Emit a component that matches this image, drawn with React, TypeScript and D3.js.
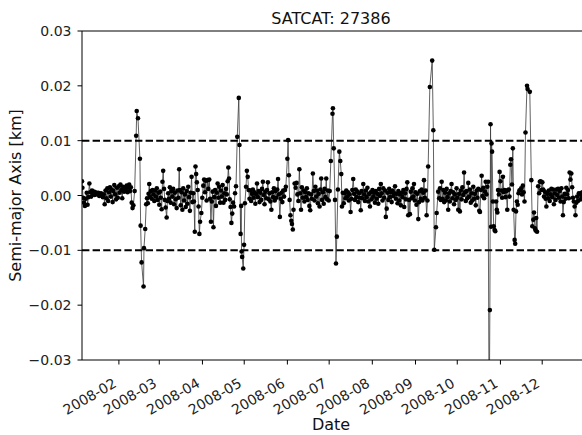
import React from "react";
import * as d3 from "d3";

// Semi-major axis residuals per TLE epoch: [day of year 2008 (0 = Jan 1), residual in metres]
const residualsQ1: [number, number][] = [
  [4.5, 2.6], [4.8, 1.4], [5.3, -0.4], [5.9, -1.3], [6.6, -1.9], [7.2, -0.6], [7.9, 0.5], [8.5, -1.7],
  [9.1, -0.3], [9.8, 2.2], [10.4, 0.6], [11.1, -0.2], [11.7, 0.9], [12.4, 0.3], [13.0, 0.7], [13.6, 0.1],
  [14.3, 0.6], [14.9, 0.4], [15.6, 0.2], [16.2, 0.5], [16.9, -0.1], [17.5, 0.3], [18.2, 0.4], [18.8, 0.1],
  [19.5, -0.3], [20.1, 0.2], [20.8, -1.6], [21.4, 0.9], [22.0, -0.5], [22.7, 1.3], [23.3, -1.0], [23.9, 0.6],
  [24.6, 1.5], [25.2, -0.2], [25.8, 1.1], [26.5, -1.2], [27.1, 0.8], [27.7, 1.9], [28.3, 0.2], [29.0, -0.7],
  [29.6, 1.4], [30.2, -0.4], [30.9, 1.7], [31.5, 0.5], [32.1, 2.0], [32.8, 1.0], [33.4, -0.5], [34.0, 1.6],
  [34.7, 0.7], [35.3, 0.9], [35.9, 1.2], [36.6, 1.8], [37.2, 0.6], [37.8, 1.4], [38.4, 2.0], [39.0, 0.8],
  [39.6, 1.5], [40.2, -1.3], [40.8, -2.3], [41.4, -1.8], [42.3, 0.8],
  [43.4, 10.9], [43.8, 15.4], [44.7, 14.1], [46.1, 6.7], [46.6, -5.5], [47.3, -12.2], [48.7, -16.6],
  [49.0, -9.6], [49.9, -6.1], [50.6, -1.6],
  [51.2, -0.5], [51.8, -1.4], [52.3, 0.3], [52.8, 2.1], [53.4, -0.3], [54.0, 0.8], [54.6, -0.6], [55.2, 1.0],
  [55.8, 0.2], [56.4, -1.0], [57.0, 0.9], [57.6, -0.2], [58.2, 1.3], [58.8, -0.8], [59.4, 0.5], [60.0, -1.7],
  [60.6, 0.7], [61.1, -0.4], [61.7, -2.5], [62.3, 2.5], [62.8, 4.5], [63.4, 1.2], [64.0, -0.8], [64.6, -2.2],
  [65.3, -4.0], [65.8, -1.0], [66.4, 0.4], [67.0, -0.6], [67.6, 1.5], [68.2, -1.3], [68.8, 0.8], [69.4, -0.2],
  [70.0, 1.2], [70.6, -1.6], [71.2, 0.5], [71.8, -0.7], [72.5, -2.3], [73.1, 0.9], [73.7, -0.4], [74.3, 4.8],
  [74.8, 1.0], [75.4, -1.8], [76.0, 0.6], [76.6, -2.6], [77.2, 1.3], [77.8, -0.9], [78.4, 0.2], [79.0, -2.1],
  [79.6, 0.8], [80.2, -1.5], [80.8, 1.6], [81.4, -0.3], [82.0, -2.8], [82.6, 0.5], [83.2, 3.4], [83.8, -1.2],
  [84.4, 0.4], [84.9, -1.1], [85.5, -6.6], [86.0, 5.3], [86.5, 3.9], [87.0, 2.4], [87.6, 1.0], [88.2, -2.0],
  [88.8, -7.0], [89.3, -4.8], [90.2, -3.2], [90.9, -0.4],
];

const residualsQ2: [number, number][] = [
  [91.6, 1.8], [92.2, 2.9], [92.8, 0.6], [93.4, 2.7], [94.0, -0.9], [94.6, 2.8], [95.2, 1.2], [95.9, 2.9],
  [96.5, -0.6], [97.1, -4.8], [97.7, -1.1], [98.3, 0.7], [98.9, -5.8], [99.5, -0.3], [100.1, 1.0], [100.7, -1.9],
  [101.3, 0.5], [101.9, 2.2], [102.5, -0.4], [103.1, 1.6], [103.7, -1.3], [104.3, 0.9], [104.9, -0.2], [105.5, 1.9],
  [106.1, -1.3], [106.7, 0.4], [107.3, -0.8], [107.9, 1.2], [108.5, 0.2], [109.1, 2.6], [109.6, 5.1], [110.1, 3.1],
  [110.6, -0.7], [111.2, -2.1], [111.8, -5.0], [112.4, -3.3], [113.0, -1.3], [113.7, -2.0], [114.4, 0.4], [115.1, 1.7],
  [116.0, 10.7], [117.1, 17.8], [117.6, 9.2], [118.4, -7.0], [118.8, -1.9], [119.1, -10.2], [119.5, -11.2],
  [120.3, -13.3], [120.9, -9.0], [121.5, -1.4], [122.3, 1.6], [122.9, 4.5], [123.5, 3.4], [124.2, 1.0],
  [124.8, -0.6], [125.4, 0.9], [126.0, -1.0], [126.6, 0.3], [127.2, 1.1], [127.8, -0.4], [128.4, 0.6], [129.0, -1.5],
  [129.6, 0.2], [130.2, 2.2], [130.8, -0.3], [131.4, 0.8], [132.0, -1.2], [132.6, 0.5], [133.2, -0.8], [133.8, 1.2],
  [134.4, 2.5], [135.0, 0.1], [135.6, -1.6], [136.2, 0.7], [136.8, -0.5], [137.4, 1.0], [138.0, 2.4], [138.6, -0.7],
  [139.2, 0.4], [139.8, -1.1], [140.5, -2.6], [141.1, 0.6], [141.7, -0.3], [142.3, 1.3], [142.9, -0.9], [143.5, 0.8],
  [144.1, -0.4], [144.7, 1.1], [145.3, 3.0], [145.9, 0.2], [146.6, -3.9], [147.2, -0.6], [147.8, 0.5], [148.4, -1.2],
  [149.0, 0.9], [149.6, -0.2], [150.3, 1.0], [150.9, 1.6], [152.0, 6.7], [152.5, 10.1], [153.1, 3.7], [153.6, -0.8],
  [154.2, -3.6], [154.8, -4.6], [155.3, -5.2], [155.9, -6.2], [156.4, -2.6], [157.2, 2.2], [157.9, 1.4], [158.6, 2.3],
  [159.2, 0.2], [159.9, -1.0], [160.6, 4.8], [161.2, 0.4], [161.8, -2.6], [162.4, 1.5], [163.0, -0.4], [163.6, 0.9],
  [164.2, -1.1], [164.8, 0.6], [165.4, -0.3], [166.0, 1.3], [166.6, -0.8], [167.2, 0.4], [167.8, -1.9], [168.4, -2.7],
  [169.0, 0.2], [169.6, -0.6], [170.3, 4.0], [170.9, 0.8], [171.5, -0.9], [172.1, 1.6], [172.7, -0.2], [173.3, 0.9],
  [173.9, -1.4], [174.5, 0.3], [175.1, -2.0], [175.7, 1.1], [176.3, 3.1], [176.9, -0.8], [177.5, 0.6], [178.1, -1.5],
  [178.7, 1.2], [179.3, -0.3], [179.9, 3.1], [180.5, -0.7], [181.1, 0.9], [181.7, -0.9],
];

const residualsQ3: [number, number][] = [
  [182.4, 0.8], [183.2, 6.3], [184.4, 14.9], [184.7, 15.9], [185.3, 8.6], [186.2, -0.8], [186.9, -12.4],
  [187.5, -7.5], [188.3, 1.1], [189.3, 8.0], [190.0, 6.3], [190.7, 3.9], [191.2, -2.0], [191.8, 0.5],
  [192.5, -1.4], [193.1, 0.4], [193.7, -0.5], [194.3, 0.9], [194.9, -0.2], [195.5, 0.6], [196.1, -0.9], [196.7, 0.2],
  [197.4, -3.0], [198.0, -0.6], [198.6, 1.0], [199.3, 3.0], [199.9, 0.3], [200.5, -0.8], [201.1, 1.1], [201.7, -0.3],
  [202.3, 0.7], [202.9, -1.2], [203.5, 0.4], [204.1, -0.4], [204.7, -2.7], [205.3, 0.8], [205.9, -0.5], [206.5, 2.1],
  [207.1, 0.2], [207.7, -1.0], [208.3, 0.9], [208.9, -0.3], [209.5, 1.4], [210.1, -1.1], [210.7, 0.3], [211.3, -2.0],
  [211.9, 0.6], [212.5, -0.7], [213.1, 1.0], [213.7, -0.2], [214.3, 0.5], [214.9, -1.3], [215.5, 0.8], [216.1, -0.6],
  [216.7, 0.3], [217.3, -1.5], [217.9, 1.2], [218.5, -0.1], [219.1, 2.1], [219.7, 0.4], [220.3, -0.9], [220.9, 1.3],
  [221.5, -0.4], [222.1, 0.9], [222.7, -3.9], [223.3, -2.4], [223.9, 0.5], [224.5, -0.8], [225.1, 1.2], [225.7, -0.3],
  [226.3, 0.6], [226.9, -1.2], [227.5, 0.9], [228.1, -0.1], [228.7, 0.4], [229.3, 1.7], [229.9, -0.6], [230.5, 0.3],
  [231.1, -1.4], [231.7, 0.8], [232.3, -0.9], [232.9, 0.2], [233.5, -1.8], [234.1, 0.5], [234.7, -0.3], [235.3, 1.0],
  [235.9, -2.1], [236.5, 0.4], [237.1, -0.7], [237.6, 1.2], [238.1, 2.4], [238.8, -3.6], [239.4, -0.8], [240.0, -3.4],
  [240.6, 0.7], [241.2, -0.5], [241.8, 1.3], [242.4, -0.2], [242.9, 2.1], [243.5, -0.9], [244.1, 0.6], [244.7, -1.7],
  [245.3, 0.3], [246.0, -4.3], [246.6, -1.2], [247.2, 0.8], [247.8, -0.6], [248.4, 1.1], [249.0, -0.9], [249.6, 0.5],
  [250.1, 2.8], [250.7, -0.4], [251.3, 0.9], [252.0, -3.6], [252.6, -0.9], [253.1, 5.3],
  [254.3, 19.8], [256.0, 24.6], [256.8, 11.9], [257.5, -9.9], [258.7, -5.8], [259.2, -3.2], [260.3, 0.7],
  [261.0, -0.5], [261.6, 1.3], [262.2, -0.8], [262.8, 2.5], [263.4, -0.6], [264.0, 1.0], [264.6, -1.2], [265.2, 0.5],
  [265.8, -0.9], [266.4, 1.2], [267.0, -0.3], [267.5, -2.6], [268.1, 0.4], [268.7, -1.1], [269.3, 0.8], [269.9, 2.1],
  [270.5, -0.5], [271.1, 0.6], [271.7, -1.6], [272.3, 0.2], [272.9, -0.8], [273.5, 1.3],
];

const residualsQ4: [number, number][] = [
  [274.1, -0.4], [274.7, -2.6], [275.3, 0.3], [275.9, -2.9], [276.5, 0.9], [277.1, -0.7], [277.7, 1.5], [278.3, 0.1],
  [278.9, 4.2], [279.5, 0.6], [280.1, -1.0], [280.7, 0.8], [281.3, -0.5], [281.9, 2.3], [282.5, -0.2], [283.1, 1.1],
  [283.7, -1.3], [284.3, 0.4], [284.9, -0.9], [285.5, 1.6], [286.1, -0.6], [286.7, 0.3], [287.3, -1.8], [287.9, 0.9],
  [288.5, -0.4], [289.1, 1.2], [289.8, -2.8], [290.3, -3.0], [291.0, 1.0], [291.5, 3.6], [292.1, -0.1], [292.7, 1.4],
  [293.3, -0.5], [293.9, 0.7], [294.4, 2.5], [295.0, 0.2], [295.6, 1.6], [296.2, 2.5],
  [296.9, -44.0], [297.4, -20.9], [297.9, 13.0], [298.3, -5.7], [298.6, 9.5], [299.0, 8.0], [299.6, -1.1],
  [300.2, -5.6], [300.8, -6.3], [301.3, -6.5], [301.9, -1.1], [302.4, -2.6], [302.8, -3.1], [303.3, 1.0],
  [303.9, 0.2], [304.4, 4.3], [305.0, 2.6], [305.5, 0.9], [306.2, -0.4], [306.8, 3.4], [307.4, 0.6], [308.0, 1.0],
  [308.6, -0.3], [309.2, 0.8], [309.9, -2.6], [310.4, 1.0], [311.0, 1.1], [311.5, -0.2], [312.1, 5.6], [312.6, 6.6],
  [313.3, 2.0], [313.9, 8.6], [314.5, -2.6], [315.2, -8.1], [315.6, -8.8], [316.2, -2.9], [316.8, -1.1], [317.4, -1.7],
  [318.0, 0.4], [318.6, 0.9], [319.3, 1.0], [319.9, 1.3], [320.5, 0.2], [321.1, 1.8], [321.7, 0.6], [322.3, -1.1],
  [323.0, 11.5], [324.1, 20.0], [324.5, 19.4], [326.1, 18.9], [327.2, 2.8], [327.9, -5.6], [328.6, -4.4],
  [329.1, -3.1], [329.8, -6.0], [330.3, -6.4], [330.7, -4.1], [331.3, -6.6], [332.1, 1.7], [332.8, 0.4],
  [333.3, 2.5], [333.9, 2.6], [334.5, 1.0], [335.1, 2.4], [335.7, 1.1], [336.3, -0.2], [336.9, 0.7], [337.5, -0.6],
  [338.0, -2.0], [338.6, 0.3], [339.2, -0.5], [339.8, 0.9], [340.4, -1.0], [341.0, 0.2], [341.6, 1.2], [342.2, -0.3],
  [342.8, 1.1], [343.4, -1.6], [344.0, 0.4], [344.6, -0.8], [345.2, 1.1], [345.8, 0.1], [346.4, 1.2], [347.0, -0.4],
  [347.6, 0.8], [348.2, -1.1], [348.8, 1.3], [349.4, -0.2], [349.9, -3.6], [350.5, -1.2], [351.1, 0.3], [351.7, -0.6],
  [352.3, 1.4], [352.9, 0.2], [353.5, 1.0], [354.1, -0.5], [354.7, 4.2], [355.3, 2.9], [355.9, 4.0], [356.5, 1.5],
  [357.1, -0.4], [357.7, -1.1], [358.3, -2.0], [358.9, -3.6], [359.5, -1.3], [360.1, -0.2], [360.7, -1.0], [361.3, 0.4],
  [361.9, 0.2], [362.5, -0.7], [363.1, 0.5], [363.7, -0.3], [364.3, 0.6],
];

const yTickValues = [-0.03, -0.02, -0.01, 0, 0.01, 0.02, 0.03];
const thresholdsKm = [0.01, -0.01];
const yDomainKm: [number, number] = [-0.03, 0.03];
const titleText = "SATCAT: 27386";
const xLabelText = "Date";
const yLabelText = "Semi-major Axis [km]";
const epochYear = 2008;

const FONT = "DejaVu Sans, sans-serif";

export default function App() {
  const W = 582;
  const H = 435;
  const plot = { left: 82, right: 583, top: 31, bottom: 360 };

  const yearStart = Date.UTC(epochYear, 0, 1);
  const points = [...residualsQ1, ...residualsQ2, ...residualsQ3, ...residualsQ4].map(([day, metres]) => ({
    date: new Date(yearStart + day * 86400000),
    km: metres / 1000,
  }));

  const x = d3
    .scaleUtc()
    .domain(d3.extent(points, (p) => p.date) as [Date, Date])
    .range([plot.left, plot.right]);
  const y = d3.scaleLinear().domain(yDomainKm).range([plot.bottom, plot.top]);

  const linePath = d3
    .line<{ date: Date; km: number }>()
    .x((p) => x(p.date))
    .y((p) => y(p.km))(points) as string;

  const monthTicks = x.ticks(d3.utcMonth.every(1) as d3.TimeInterval);
  const monthFormat = d3.utcFormat("%Y-%m");
  const yFormat = d3.format(".2f");

  const tickLen = 4.5;
  const centerX = (plot.left + plot.right) / 2;

  return (
    <svg
      width={W}
      height={H}
      style={{ position: "absolute", left: 0, top: 0, background: "#fff" }}
      fontFamily={FONT}
    >
      <defs>
        <clipPath id="plot-area">
          <rect x={plot.left} y={plot.top} width={plot.right - plot.left} height={plot.bottom - plot.top} />
        </clipPath>
      </defs>
      <rect x={0} y={0} width={W} height={H} fill="#fff" />

      <g clipPath="url(#plot-area)">
        <path d={linePath} fill="none" stroke="#3a3a3a" strokeWidth={0.8} />
        {points.map((p, i) => (
          <circle key={i} cx={x(p.date)} cy={y(p.km)} r={2.3} fill="#000" />
        ))}
        {thresholdsKm.map((t) => (
          <line
            key={t}
            x1={plot.left}
            x2={plot.right}
            y1={y(t)}
            y2={y(t)}
            stroke="#000"
            strokeWidth={2}
            strokeDasharray="7.4 3.2"
          />
        ))}
      </g>

      {/* spines */}
      <g stroke="#000" strokeWidth={1} fill="none">
        <line x1={plot.left} x2={plot.left} y1={plot.top} y2={plot.bottom} />
        <line x1={plot.left} x2={plot.right} y1={plot.bottom} y2={plot.bottom} />
        <line x1={plot.left} x2={plot.right} y1={plot.top} y2={plot.top} />
        <line x1={plot.right} x2={plot.right} y1={plot.top} y2={plot.bottom} />
      </g>

      {/* y axis */}
      {yTickValues.map((v) => (
        <g key={v}>
          <line x1={plot.left - tickLen} x2={plot.left} y1={y(v)} y2={y(v)} stroke="#000" strokeWidth={1} />
          <text
            x={plot.left - tickLen - 6}
            y={y(v)}
            textAnchor="end"
            dominantBaseline="central"
            fontSize={14}
            fill="#222"
          >
            {yFormat(v)}
          </text>
        </g>
      ))}

      {/* x axis */}
      {monthTicks.map((t) => {
        const tx = x(t);
        return (
          <g key={t.getTime()}>
            <line x1={tx} x2={tx} y1={plot.bottom} y2={plot.bottom + tickLen} stroke="#000" strokeWidth={1} />
            <text
              transform={`translate(${tx - 1.5},${plot.bottom + 26}) rotate(-30)`}
              textAnchor="end"
              fontSize={14}
              fill="#222"
            >
              {monthFormat(t)}
            </text>
          </g>
        );
      })}

      <text x={centerX - 1.5} y={24} textAnchor="middle" fontSize={16} fill="#111">
        {titleText}
      </text>
      <text x={centerX - 1.5} y={430} textAnchor="middle" fontSize={16} fill="#111">
        {xLabelText}
      </text>
      <text
        transform={`translate(21,${(plot.top + plot.bottom) / 2}) rotate(-90)`}
        textAnchor="middle"
        fontSize={16}
        fill="#111"
      >
        {yLabelText}
      </text>
    </svg>
  );
}
